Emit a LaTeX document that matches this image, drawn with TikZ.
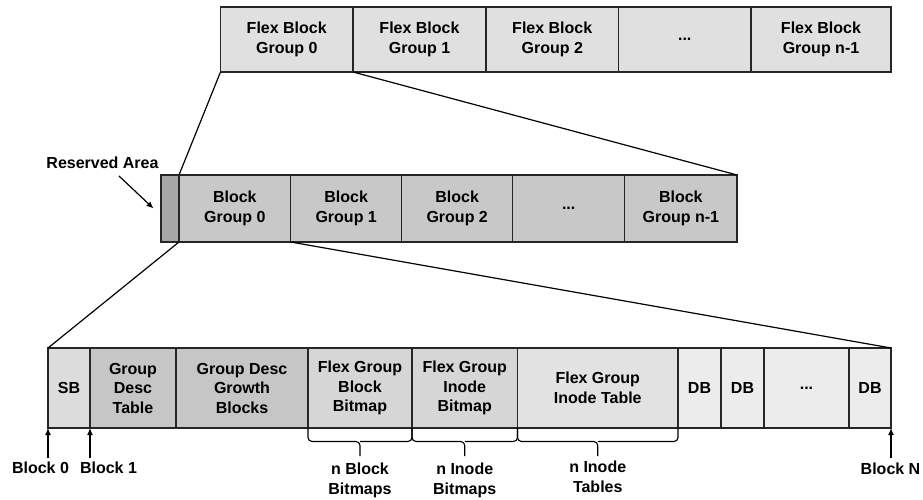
\documentclass[tikz,border=0pt]{standalone}
\usepackage{fontspec}
\setmainfont{Liberation Sans}
\usetikzlibrary{arrows.meta,calc}
\definecolor{ctop}{HTML}{E0E0E0}
\definecolor{cmid}{HTML}{C8C8C8}
\definecolor{cres}{HTML}{A6A6A6}
\definecolor{csb}{HTML}{DCDCDC}
\definecolor{cgd}{HTML}{C6C6C6}
\definecolor{cbm}{HTML}{D6D6D6}
\definecolor{cit}{HTML}{E2E2E2}
\definecolor{cdb}{HTML}{ECECEC}
\newcommand\drawbrc[1]{%
  \draw[brc] (#1.south west) |- ($(#1.south)+(0,13.5)$) -- ++(0,14.5);
  \draw[brc] (#1.south east) |- ($(#1.south)+(0,13.5)$);}
\begin{document}
\begin{tikzpicture}[x=1pt,y=-1pt,
  txt/.style={font=\fontsize{16}{19.5}\selectfont\bfseries, align=center},
  cell/.style={txt, draw=black!85, line width=1.5pt, inner sep=0pt, outer sep=0pt, anchor=north west},
  conn/.style={line width=1.2pt, black},
  arr/.style={line width=1.2pt, -{Latex[length=7pt,width=6pt]}},
  brc/.style={line width=1.1pt, rounded corners=4pt},
  lbl/.style={txt, inner sep=0pt},
]
\fill[white] (0,0) rectangle (923,500);
\useasboundingbox (0,0) rectangle (923,500);

% top row
\node[cell, fill=ctop, minimum width=132.5pt, minimum height=65pt] (t0) at (220.5,7) {Flex Block\\Group 0};
\node[cell, fill=ctop, minimum width=133pt, minimum height=65pt] (t1) at (353,7) {Flex Block\\Group 1};
\node[cell, fill=ctop, minimum width=132.5pt, minimum height=65pt] (t2) at (486,7) {Flex Block\\Group 2};
\node[cell, fill=ctop, minimum width=132.5pt, minimum height=65pt] (t3) at (618.5,7) {...};
\node[cell, fill=ctop, minimum width=140pt, minimum height=65pt] (t4) at (751,7) {Flex Block\\Group n-1};

% middle row
\node[cell, fill=cres, minimum width=18pt, minimum height=67pt] (res) at (161,175) {};
\node[cell, fill=cmid, minimum width=111.7pt, minimum height=67pt] (m0) at (179,175) {Block\\Group 0};
\node[cell, fill=cmid, minimum width=111pt, minimum height=67pt] (m1) at (290.7,175) {Block\\Group 1};
\node[cell, fill=cmid, minimum width=111pt, minimum height=67pt] (m2) at (401.7,175) {Block\\Group 2};
\node[cell, fill=cmid, minimum width=112pt, minimum height=67pt] (m3) at (512.7,175) {...};
\node[cell, fill=cmid, minimum width=112.3pt, minimum height=67pt] (m4) at (624.7,175) {Block\\Group n-1};

% bottom row
\node[cell, fill=csb, minimum width=42pt, minimum height=80pt] (sb) at (48,348) {SB};
\node[cell, fill=cgd, minimum width=86pt, minimum height=80pt] (gdt) at (90,348) {Group\\Desc\\Table};
\node[cell, fill=cgd, minimum width=132pt, minimum height=80pt] (gdg) at (176,348) {Group Desc\\Growth\\Blocks};
\node[cell, fill=cbm, minimum width=104pt, minimum height=80pt] (fbb) at (308,348) {Flex Group\\Block\\Bitmap};
\node[cell, fill=cbm, minimum width=105.5pt, minimum height=80pt] (fib) at (412,348) {Flex Group\\Inode\\Bitmap};
\node[cell, fill=cit, minimum width=160.5pt, minimum height=80pt] (fit) at (517.5,348) {Flex Group\\Inode Table};
\node[cell, fill=cdb, minimum width=43pt, minimum height=80pt] (db1) at (678,348) {DB};
\node[cell, fill=cdb, minimum width=43pt, minimum height=80pt] (db2) at (721,348) {DB};
\node[cell, fill=cdb, minimum width=85pt, minimum height=80pt] (dbd) at (764,348) {...};
\node[cell, fill=cdb, minimum width=42pt, minimum height=80pt] (db3) at (849,348) {DB};

% zoom connectors
\draw[conn] (t0.south west) -- (m0.north west);
\draw[conn] (t0.south east) -- (m4.north east);
\draw[conn] (m0.south west) -- (sb.north west);
\draw[conn] (m0.south east) -- (db3.north east);

% reserved area
\node[lbl] (resl) at (102.5,163) {Reserved Area};
\coordinate (resa) at (119,176);
\coordinate (resb) at (153.5,208.5);
\draw[arr] (resa) -- (resb);

% block pointers
\coordinate (a0) at (48,458);
\coordinate (a1) at (90,458);
\coordinate (aN) at (891,458);
\draw[arr] (a0) -- (sb.south west);
\draw[arr] (a1) -- (sb.south east);
\draw[arr] (aN) -- (db3.south east);
\node[lbl] (l0) at (40.5,468) {Block 0};
\node[lbl] (l1) at (108.5,468) {Block 1};
\node[lbl] (lN) at (890.5,469) {Block N};

% braces
\drawbrc{fbb}
\drawbrc{fib}
\drawbrc{fit}
\node[lbl] (bl1) at (360,480.5) {n Block\\Bitmaps};
\node[lbl] (bl2) at (464.75,480.5) {n Inode\\Bitmaps};
\node[lbl] (bl3) at (597.75,477) {n Inode\\Tables};
\end{tikzpicture}
\end{document}
